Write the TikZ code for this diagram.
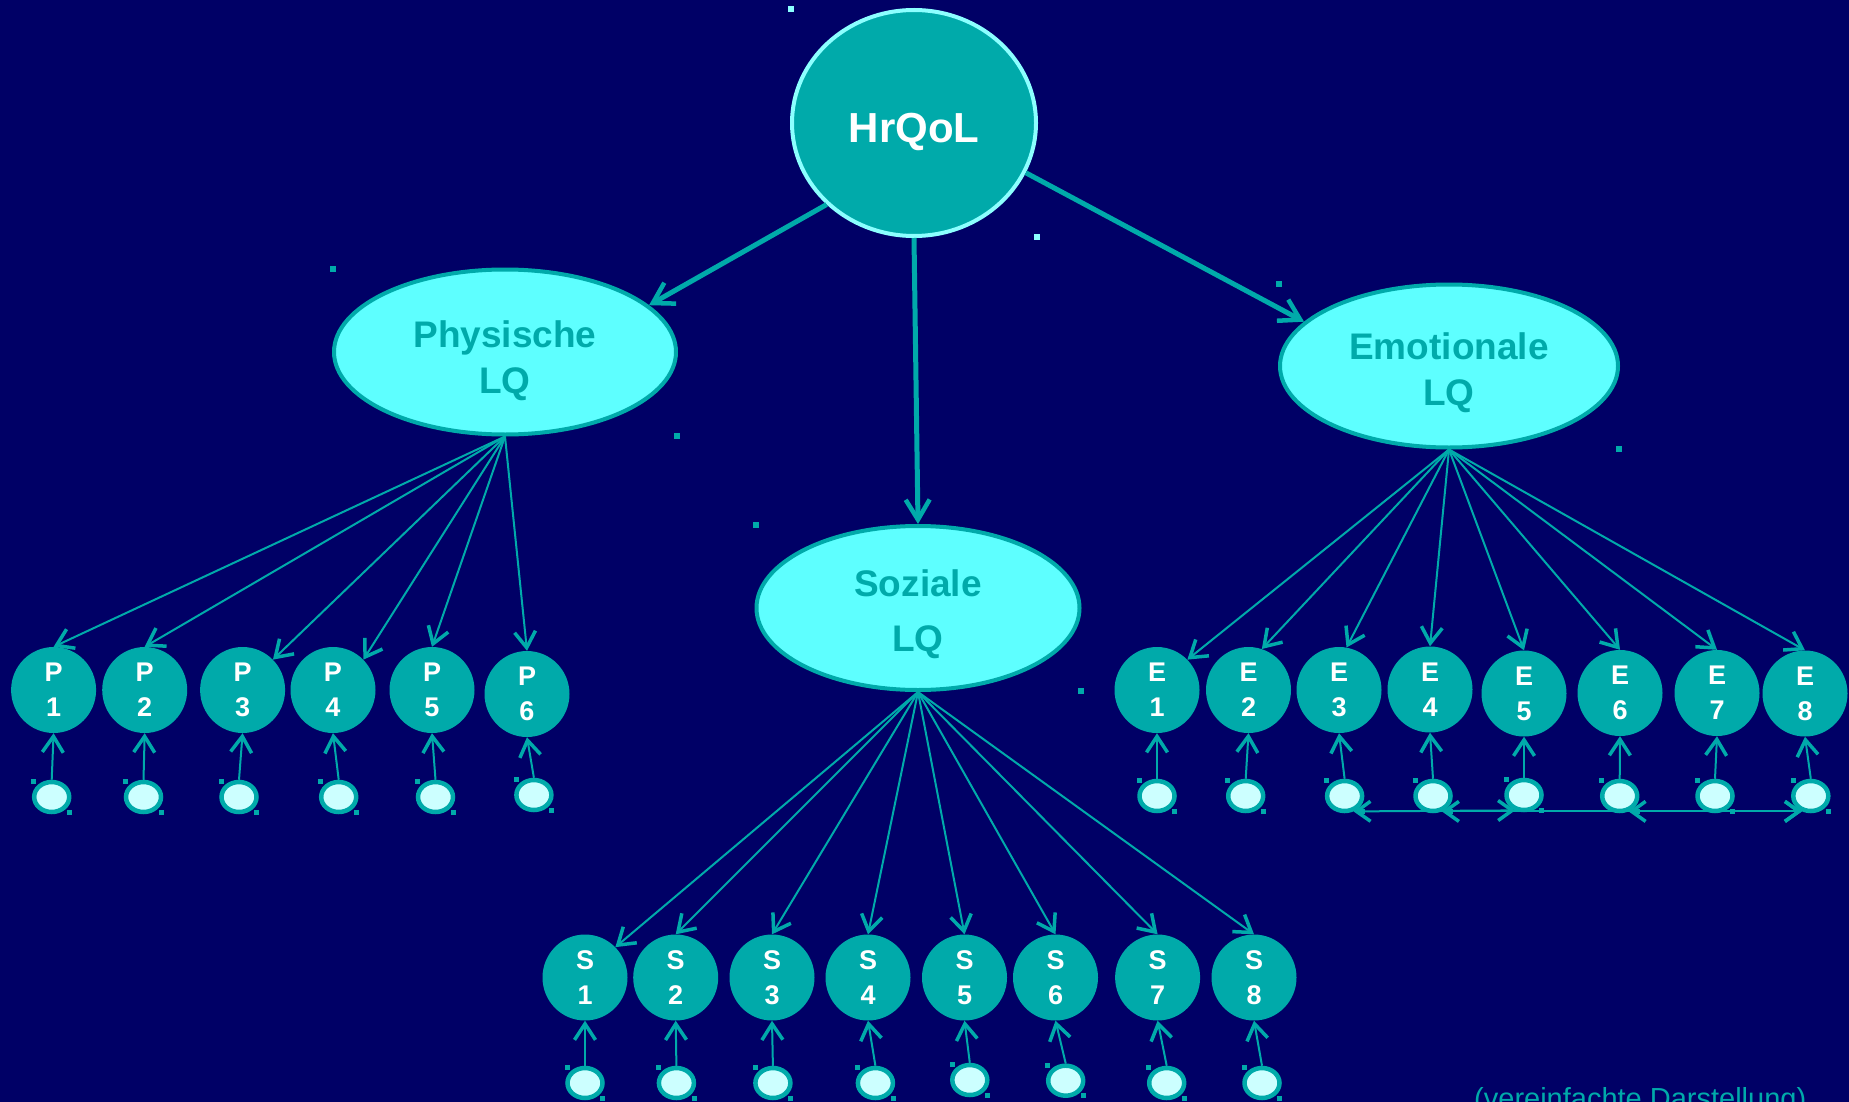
\documentclass[tikz,border=0pt]{standalone}
\usepackage{fontspec}
\setmainfont{Liberation Sans}
\usetikzlibrary{arrows.meta,shapes.geometric}

\definecolor{navybg}{RGB}{0,0,102}
\definecolor{tealc}{RGB}{0,170,170}
\definecolor{lightc}{RGB}{94,255,255}
\definecolor{rimc}{RGB}{140,255,255}
\definecolor{errc}{RGB}{204,255,255}

\tikzset{
  latent/.style={ellipse, draw=tealc, line width=4pt, fill=lightc, text=tealc,
    inner sep=0pt, align=center, font=\bfseries\fontsize{37}{46}\selectfont},
  item/.style={ellipse, fill=tealc, minimum width=85pt, minimum height=86pt,
    inner sep=0pt, align=center, text=white, font=\bfseries\fontsize{27}{35}\selectfont},
  resid/.style={ellipse, draw=tealc, line width=4.5pt, fill=errc,
    minimum width=35pt, minimum height=30pt, inner sep=0pt},
  bighead/.style={-{Straight Barb[length=20pt,width=24pt,line width=4.5pt,sep=12pt]}, shorten >=-12pt},
  smallhead/.style={-{Straight Barb[length=16pt,width=21pt,line width=3.5pt,sep=10pt]}, shorten >=-10pt},
  path/.style={draw=tealc, line width=5pt, bighead},
  loading/.style={draw=tealc, line width=2pt, smallhead},
  covar/.style={draw=tealc, line width=2pt,
    {Straight Barb[length=14pt,width=20pt,line width=3.5pt]}-{Straight Barb[length=14pt,width=20pt,line width=3.5pt]}},
}

\begin{document}
\begin{tikzpicture}[x=1pt,y=-1pt]
  \fill[navybg] (0,0) rectangle (1849,1102);
  \clip (0,0) rectangle (1849,1102);

  % top-level factor and the three domains
  \node[ellipse, draw=rimc, line width=4pt, fill=tealc, text=white,
        minimum width=244pt, minimum height=226pt, inner sep=0pt,
        text height=40pt, text depth=0pt,
        font=\bfseries\fontsize{42}{50}\selectfont] (hr) at (914,123) {HrQoL};
  \node[latent, minimum width=342pt, minimum height=165pt, text height=89.5pt]
        (phys) at (505,352) {Physische\\LQ};
  \node[latent, minimum width=323pt, minimum height=164pt, text height=94pt,
        font=\bfseries\fontsize{37}{55}\selectfont] (soz) at (918,608) {Soziale\\LQ};
  \node[latent, minimum width=338pt, minimum height=163pt, text height=86pt]
        (emo) at (1449,366) {Emotionale\\LQ};

  % physical items and their residuals
  \foreach \i/\x/\y/\ex/\ey in {1/53.6/690/51.7/797, 2/144.7/690/143.5/797,
      3/242.6/690/239/797, 4/333/690/338.7/797, 5/432/690/435.5/797,
      6/527/694/533.9/795} {
    \node[item] (P\i) at (\x,\y) {P\\\i};
    \node[resid] (Pe\i) at (\ex,\ey) {};
  }

  % emotional items and their residuals
  \foreach \i/\x/\y/\ex/\ey in {1/1157/690/1157/796, 2/1248.5/690/1245.7/796,
      3/1339/690/1344.6/796, 4/1430/689.5/1433/796, 5/1524/693.5/1524/795,
      6/1620/693/1619.7/796, 7/1717/693/1715/796, 8/1805/693.5/1810.8/796} {
    \node[item] (E\i) at (\x,\y) {E\\\i};
    \node[resid] (Ee\i) at (\ex,\ey) {};
  }

  % social items and their residuals
  \foreach \i/\x/\ex/\ey in {1/585/585/1083, 2/675.7/676.4/1083, 3/772/772.9/1083,
      4/868/875.4/1083, 5/964.5/969.8/1080, 6/1055.5/1065.7/1080.7,
      7/1157.6/1166.7/1083, 8/1254/1262/1083} {
    \node[item] (S\i) at (\x,977.5) {S\\\i};
    \node[resid] (Se\i) at (\ex,\ey) {};
  }

  % structural paths
  \draw[path] (hr.223) -- (phys.18);
  \draw[path] (hr.south) -- (soz.north);
  \draw[path] (hr.-24) -- (emo.163);

  % factor loadings
  \foreach \i/\a in {1/90,2/90,3/45,4/45,5/90,6/90}
    \draw[loading] (phys.south) -- (P\i.\a);
  \foreach \i/\a in {1/45,2/72,3/80,4/90,5/90,6/90,7/90,8/90}
    \draw[loading] (emo.south) -- (E\i.\a);
  \foreach \i/\a in {1/45,2/90,3/90,4/90,5/90,6/90,7/90,8/90}
    \draw[loading] (soz.south) -- (S\i.\a);

  % residual paths
  \foreach \i in {1,...,6}
    \draw[loading] (Pe\i.north) -- (P\i.south);
  \foreach \i in {1,...,8} {
    \draw[loading] (Ee\i.north) -- (E\i.south);
    \draw[loading] (Se\i.north) -- (S\i.south);
  }

  % correlated residuals
  \draw[covar] (Ee3.-60) -- (Ee5.-120);
  \draw[covar] (Ee4.-60) -- (Ee8.-120);
  \draw[covar] (Ee6.-60) -- (Ee8.-120);

  % selection handles
  \fill[rimc] (hr.north -| hr.west) ++(-2,-2) rectangle ++(6,6);
  \fill[rimc] (hr.south -| hr.east) ++(-4,-4) rectangle ++(6,6);
  \foreach \n in {phys,soz,emo} {
    \fill[tealc] (\n.north -| \n.west) ++(-2,-2) rectangle ++(6,6);
    \fill[tealc] (\n.south -| \n.east) ++(-4,-4) rectangle ++(6,6);
  }
  \foreach \n in {Pe1,Pe2,Pe3,Pe4,Pe5,Pe6,Ee1,Ee2,Ee3,Ee4,Ee5,Ee6,Ee7,Ee8,
                  Se1,Se2,Se3,Se4,Se5,Se6,Se7,Se8} {
    \fill[tealc] (\n.north -| \n.west) ++(-0.5,-0.5) rectangle ++(5,5);
    \fill[tealc] (\n.south -| \n.east) ++(-4.5,-4.5) rectangle ++(5,5);
  }

  \node[anchor=base west, text=tealc, inner sep=0pt,
        font=\fontsize{29}{35}\selectfont] (note) at (1474,1108) {(vereinfachte Darstellung)};
\end{tikzpicture}
\end{document}
